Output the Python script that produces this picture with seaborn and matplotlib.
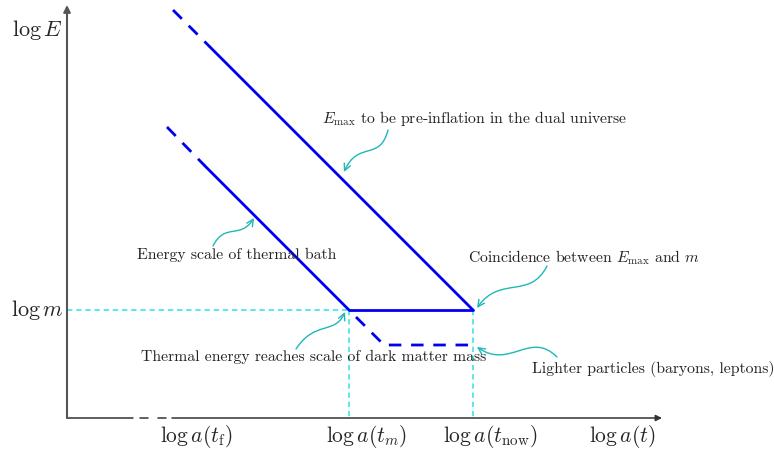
import numpy as np
import pandas as pd
import matplotlib
matplotlib.use("Agg")
import matplotlib.pyplot as plt
import seaborn as sns
from matplotlib.path import Path
from matplotlib.patches import FancyArrowPatch

sns.set_theme(style="white")
plt.rcParams["mathtext.fontset"] = "cm"
plt.rcParams["font.family"] = ["cmr10", "DejaVu Serif"]
plt.rcParams["axes.formatter.use_mathtext"] = True

# ── Diagram data (canvas units, y grows downwards) ───────────────────────
emax_dash_x, emax_dash_y = [173, 210], [10, 47]
emax_x, emax_y = [210, 473], [47, 310]
therm_dash_x, therm_dash_y = [167, 205], [127, 166]
therm_x, therm_y = [205, 349], [166, 310]
plateau_x, plateau_y = [349, 473], [310, 310]
light_x, light_y = [356, 384, 473], [317, 345, 345]
guide_h_x, guide_h_y = [67, 349], [310, 310]
guide_tm_x, guide_tm_y = [349, 349], [310, 418]
guide_now_x, guide_now_y = [473, 473], [310, 418]

x_tick_pos = [196, 366, 490, 622]
x_tick_lbl = [r"$\log a(t_{\rm f})$", r"$\log a(t_m)$",
              r"$\log a(t_{\rm now})$", r"$\log a(t)$"]
y_tick_pos = [30, 310]
y_tick_lbl = [r"$\log E$", r"$\log m$"]

notes = [
    (r"$E_{\rm max}$ to be pre-inflation in the dual universe", 322, 118,
     [(388, 130), (380, 162), (358, 140), (344, 172)]),
    ("Energy scale of thermal bath", 137, 255,
     [(213, 246), (225, 222), (240, 240), (254, 218)]),
    (r"Coincidence between $E_{\rm max}$ and $m$", 468, 258,
     [(547, 266), (530, 300), (500, 275), (477, 308)]),
    ("Thermal energy reaches scale of dark matter mass", 141, 357,
     [(296, 349), (315, 320), (335, 335), (345, 312)]),
    ("Lighter particles (baryons, leptons)", 532, 369,
     [(557, 357), (530, 330), (510, 370), (477, 347)]),
]

BLUE = "#0000ee"
CYAN = "#30e0e0"
TEAL = "#1fb8b8"
AXIS = "#555555"

fig = plt.figure(figsize=(7.74, 4.5), dpi=100)
ax = fig.add_axes([0, 0, 1, 1])
ax.set_xlim(0, 774)
ax.set_ylim(450, 0)
ax.axis("off")

# ── guides ───────────────────────────────────────────────────────────────
for gx, gy in [(guide_h_x, guide_h_y), (guide_tm_x, guide_tm_y),
               (guide_now_x, guide_now_y)]:
    ax.plot(gx, gy, color=CYAN, lw=1.1, dashes=(3.5, 2.5))

# ── axes with arrows ─────────────────────────────────────────────────────
ax.annotate("", xy=(67, 5), xytext=(67, 418),
            arrowprops=dict(arrowstyle="-|>", color=AXIS, lw=1.5,
                            mutation_scale=10, shrinkA=0, shrinkB=0))
ax.plot([67, 133], [418, 418], color="#333333", lw=1.1)
ax.plot([140, 148], [418, 418], color="#333333", lw=1.1)
ax.plot([158, 166], [418, 418], color="#333333", lw=1.1)
ax.annotate("", xy=(662, 418), xytext=(172, 418),
            arrowprops=dict(arrowstyle="-|>", color="#333333", lw=1.1,
                            mutation_scale=9, shrinkA=0, shrinkB=0))

# ── energy lines ─────────────────────────────────────────────────────────
solid = [(emax_x, emax_y), (therm_x, therm_y), (plateau_x, plateau_y)]
for lx, ly in solid:
    sns.lineplot(x=lx, y=ly, ax=ax, color=BLUE, lw=2, sort=False,
                 estimator=None)
for lx, ly in [(emax_dash_x, emax_dash_y), (therm_dash_x, therm_dash_y),
               (light_x, light_y)]:
    ax.plot(lx, ly, color=BLUE, lw=2, dashes=(4.5, 3.5))

# ── labels ───────────────────────────────────────────────────────────────
for xp, lbl in zip(x_tick_pos, x_tick_lbl):
    ax.text(xp, 437, lbl, ha="center", va="center", fontsize=15.5)
for yp, lbl in zip(y_tick_pos, y_tick_lbl):
    ax.text(37, yp, lbl, ha="center", va="center", fontsize=16)

for txt, tx, ty, pts in notes:
    ax.text(tx, ty, txt, ha="left", va="center", fontsize=11.3,
            color="#222222")
    path = Path(pts, [Path.MOVETO, Path.CURVE4, Path.CURVE4, Path.CURVE4])
    arr = FancyArrowPatch(path=path, arrowstyle="->", color=TEAL, lw=1.0,
                          mutation_scale=12)
    ax.add_patch(arr)

plt.savefig("out.png", dpi=100)
plt.close()
